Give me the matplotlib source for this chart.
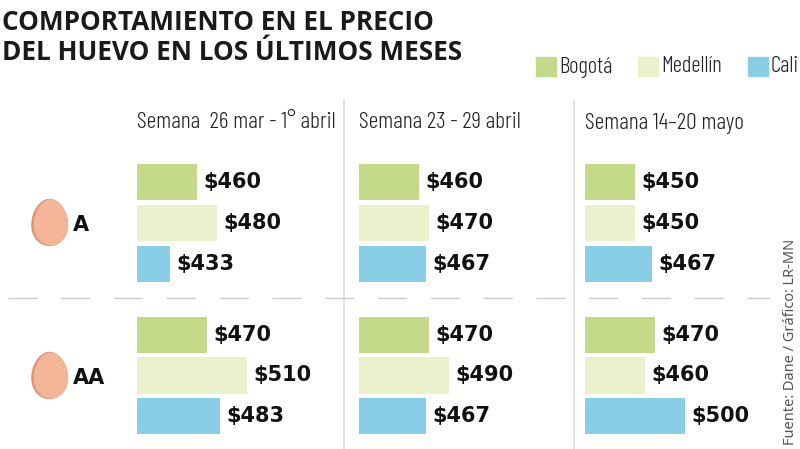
import numpy as np
import matplotlib
matplotlib.use("Agg")
from matplotlib import pyplot as plt
from matplotlib.lines import Line2D
from matplotlib.patches import Polygon

# Data
cities = ["Bogotá", "Medellín", "Cali"]
weeks = ["Semana  26 mar - 1° abril", "Semana 23 - 29 abril", "Semana 14–20 mayo"]
egg_types = ["A", "AA"]

# prices[egg_type][week] -> [Bogotá, Medellín, Cali]
price_a = [[460, 480, 433], [460, 470, 467], [450, 450, 467]]
price_aa = [[470, 510, 483], [470, 490, 467], [470, 460, 500]]
prices = [price_a, price_aa]

colors = ["#C5D98A", "#EBF1CC", "#89CDE6"]

W, H = 800, 449
fig = plt.figure(figsize=(W / 100, H / 100), dpi=100)
fig.patch.set_facecolor("white")

title_font = ["Open Sans", "DejaVu Sans"]
light_font = ["Barlow Condensed", "DejaVu Sans"]


def fx(px):
    return px / W


def fy(py):
    return 1 - py / H


# panel geometry (pixels)
panel_left = [137, 359, 585]
panel_width = 200
row_span = [(161.5, 284.5), (314.5, 436.5)]

for r, rows in enumerate(prices):
    top, bottom = row_span[r]
    for c, vals in enumerate(rows):
        ax = fig.add_axes([fx(panel_left[c]), fy(bottom), fx(panel_width), (bottom - top) / H])
        ypos = np.arange(len(cities))
        ax.barh(ypos, np.array(vals) - 400, left=400, height=0.9, color=colors)
        for y, v in zip(ypos, vals):
            ax.text(v + 6, y, f"${v}", va="center", ha="left", fontsize=15,
                    fontweight="bold", color="#111111")
        ax.set_xlim(400, 400 + panel_width)
        ax.set_ylim(2.5, -0.5)
        ax.axis("off")

# title
fig.text(fx(2), fy(22), "COMPORTAMIENTO EN EL PRECIO", family=title_font, fontsize=18.8,
         fontweight="bold", va="center", ha="left", color="#1a1a1a")
fig.text(fx(2), fy(53), "DEL HUEVO EN LOS ÚLTIMOS MESES", family=title_font, fontsize=18.8,
         fontweight="bold", va="center", ha="left", color="#1a1a1a")

# legend
legend_x = [536, 638, 748]
for lx, name, col in zip(legend_x, cities, colors):
    fig.patches.append(plt.Rectangle((fx(lx), fy(76)), fx(20), 19 / H, color=col,
                                     transform=fig.transFigure))
    fig.text(fx(lx + 23), fy(67), name, family=light_font, fontsize=16.5, fontweight=300,
             va="center", ha="left", color="#222222")

# week headers
for lx, wk in zip(panel_left, weeks):
    fig.text(fx(lx), fy(123), wk, family=light_font, fontsize=17, fontweight=300,
             va="center", ha="left", color="#222222")

# separators
for sx in [344, 574]:
    fig.lines.append(Line2D([fx(sx), fx(sx)], [fy(100), fy(449)], color="#dddddd",
                            lw=1.2, transform=fig.transFigure))
fig.lines.append(Line2D([fx(8), fx(770)], [fy(298), fy(298)], color="#cccccc", lw=1,
                        dashes=(21, 17), transform=fig.transFigure))


# eggs
def egg(cx, cy, rx, ry, color, dx=0):
    t = np.linspace(0, 2 * np.pi, 100)
    xs = cx + dx + rx * np.cos(t) * (1 - 0.1 * np.sin(t))
    ys = cy - ry * np.sin(t)
    pts = np.column_stack([fx(xs), fy(ys)])
    fig.patches.append(Polygon(pts, closed=True, color=color, transform=fig.transFigure))


for label, cy in zip(egg_types, [222.5, 375.5]):
    egg(49.5, cy, 17.5, 23, "#D8957A", dx=0)
    egg(49.5, cy, 16.5, 22.5, "#F4B497", dx=1.5)
    fig.text(fx(73), fy(cy + 3), label, fontsize=15, fontweight="bold", va="center",
             ha="left", color="#111111")

# source
fig.text(fx(790), fy(445), "Fuente: Dane / Gráfico: LR-MN", family=["Noto Sans", "DejaVu Sans"],
         fontsize=10.5, rotation=90, va="bottom", ha="center", color="#555555")

fig.savefig("out.png", dpi=100, facecolor="white")
